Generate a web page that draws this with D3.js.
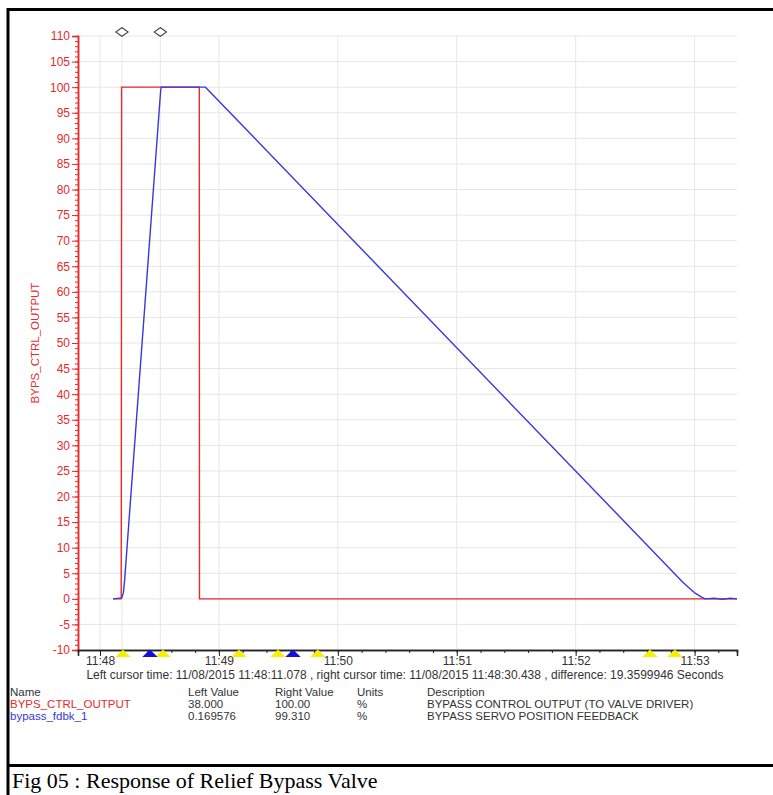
<!DOCTYPE html>
<html>
<head>
<meta charset="utf-8">
<script src="https://cdn.jsdelivr.net/npm/d3@7"></script>
<style>
  body { margin: 0; background: #fff; }
  svg { display: block; font-family: "Liberation Sans", Arial, sans-serif; }
</style>
</head>
<body>
<svg id="chart"></svg>
<script>
var width = 773, height = 795;

// data (time of day, percent)
var ctrlTimes  = ["11:48:06.600", "11:48:10.700", "11:48:10.900", "11:48:50.100", "11:48:50.200", "11:53:21.400"];
var ctrlValues = [0, 0, 100, 100, 0, 0];

var fdbkTimes  = ["11:48:06.600", "11:48:11.000", "11:48:11.800", "11:48:12.400", "11:48:30.600", "11:48:30.900",
                  "11:48:53.200", "11:52:53.700", "11:52:56.700", "11:53:00.300", "11:53:03.300", "11:53:05.300",
                  "11:53:10.000", "11:53:14.000", "11:53:18.000", "11:53:21.400"];
var fdbkValues = [0, 0.17, 1.2, 3.5, 99.3, 100,
                  100, 3.4, 2.3, 1.1, 0.4, 0,
                  0.1, -0.1, 0.1, 0];

var cursorTimes = ["11:48:11.078", "11:48:30.438"];
var yellowMarks = ["11:48:11.600", "11:48:31.800", "11:49:10.100", "11:49:29.800", "11:49:49.900", "11:52:37.500", "11:52:50.100"];
var blueMarks   = ["11:48:25.200", "11:49:37.400"];

var xDomain = ["11:47:48.900", "11:53:21.400"];
var yMin = -10, yMax = 110;

var legendHeader = ["Name", "Left Value", "Right Value", "Units", "Description"];
var legendRows = [
  ["BYPS_CTRL_OUTPUT", "38.000", "100.00", "%", "BYPASS CONTROL OUTPUT (TO VALVE DRIVER)"],
  ["bypass_fdbk_1", "0.169576", "99.310", "%", "BYPASS SERVO POSITION FEEDBACK"]
];
var cursorText = "Left cursor time: 11/08/2015 11:48:11.078 , right cursor time: 11/08/2015 11:48:30.438 , difference: 19.3599946 Seconds";
var caption = "Fig 05 : Response of Relief Bypass Valve";

var red = "#e82a2a", blue = "#3838d8", grid = "#e6e6e6";

var parse = d3.timeParse("%H:%M:%S.%L");

var svg = d3.select("#chart").attr("width", width).attr("height", height);

var x = d3.scaleTime()
    .domain(xDomain.map(parse))
    .range([78, 737]);

var y = d3.scaleLinear()
    .domain([yMin, yMax])
    .range([650, 36]);

// frame like a table cell
svg.append("line").attr("x1", 8).attr("y1", 8).attr("x2", 8).attr("y2", height)
    .attr("stroke", "#000").attr("stroke-width", 3);
svg.append("line").attr("x1", 8).attr("y1", 9.5).attr("x2", width).attr("y2", 9.5)
    .attr("stroke", "#000").attr("stroke-width", 3);
svg.append("line").attr("x1", 8).attr("y1", 765.5).attr("x2", width).attr("y2", 765.5)
    .attr("stroke", "#000").attr("stroke-width", 3);

// grid
var gridG = svg.append("g");
gridG.selectAll(".hg")
    .data(d3.range(-5, yMax + 1, 5))
    .enter().append("line")
    .attr("x1", x.range()[0]).attr("x2", x.range()[1])
    .attr("y1", d => y(d)).attr("y2", d => y(d))
    .attr("stroke", grid);

var vLines = x.ticks(d3.timeMinute.every(1)).concat(cursorTimes.map(parse));
gridG.selectAll(".vg")
    .data(vLines)
    .enter().append("line")
    .attr("x1", d => x(d)).attr("x2", d => x(d))
    .attr("y1", y(yMax)).attr("y2", y(yMin))
    .attr("stroke", grid);

// series
var line = d3.line()
    .x(d => x(d[0]))
    .y(d => y(d[1]));

svg.append("path")
    .datum(ctrlTimes.map((t, i) => [parse(t), ctrlValues[i]]))
    .attr("fill", "none").attr("stroke", red).attr("stroke-width", 1.4)
    .attr("d", line);

svg.append("path")
    .datum(fdbkTimes.map((t, i) => [parse(t), fdbkValues[i]]))
    .attr("fill", "none").attr("stroke", blue).attr("stroke-width", 1.4)
    .attr("d", line);

// y axis (red), minor ticks every unit
var yMinor = svg.append("g")
    .attr("transform", "translate(" + x.range()[0] + ",0)")
    .call(d3.axisLeft(y).tickValues(d3.range(yMin, yMax + 1, 1)).tickSize(3).tickFormat(""));
var yAxis = svg.append("g")
    .attr("transform", "translate(" + x.range()[0] + ",0)")
    .call(d3.axisLeft(y).tickValues(d3.range(yMin, yMax + 1, 5)).tickSize(6).tickPadding(2)
          .tickFormat(d => String(d)));
[yMinor, yAxis].forEach(function (g) {
  g.selectAll("path, line").attr("stroke", red);
  g.select(".domain").attr("stroke-width", 1.5);
});
yAxis.selectAll("text").attr("fill", red).style("font-size", "12px");

svg.append("text")
    .attr("transform", "translate(39,343) rotate(-90)")
    .attr("text-anchor", "middle")
    .attr("fill", red)
    .style("font-size", "11.5px")
    .text("BYPS_CTRL_OUTPUT");

// x axis
var xMinor = svg.append("g")
    .attr("transform", "translate(0," + y(yMin) + ")")
    .call(d3.axisBottom(x).ticks(d3.timeSecond.every(12)).tickSize(3).tickFormat(""));
var xAxis = svg.append("g")
    .attr("transform", "translate(0," + y(yMin) + ")")
    .call(d3.axisBottom(x).ticks(d3.timeMinute.every(1)).tickSize(6).tickPadding(0)
          .tickFormat(d3.timeFormat("%H:%M")));
[xMinor, xAxis].forEach(function (g) {
  g.selectAll("path, line").attr("stroke", "#222");
  g.select(".domain").attr("stroke-width", 1.5);
});
xAxis.selectAll("text").attr("fill", "#333").style("font-size", "12px");

// event markers under the axis
var tri = d3.symbol().type(d3.symbolTriangle).size(40);
svg.selectAll(".ym")
    .data(yellowMarks.map(parse))
    .enter().append("path")
    .attr("d", tri)
    .attr("transform", d => "translate(" + x(d) + "," + (y(yMin) + 4.5) + ") scale(1.6,0.9)")
    .attr("fill", "#f4f000");
svg.selectAll(".bm")
    .data(blueMarks.map(parse))
    .enter().append("path")
    .attr("d", tri)
    .attr("transform", d => "translate(" + x(d) + "," + (y(yMin) + 4.5) + ") scale(1.6,0.9)")
    .attr("fill", "#1010d8");

// cursor diamonds at the top
svg.selectAll(".cur")
    .data(cursorTimes.map(parse))
    .enter().append("path")
    .attr("d", d3.symbol().type(d3.symbolDiamond2).size(72))
    .attr("transform", d => "translate(" + x(d) + ",32) scale(1.15,0.82)")
    .attr("fill", "#fff").attr("stroke", "#333").attr("stroke-width", 1.1);

// cursor readout
svg.append("text")
    .attr("x", 405).attr("y", 679)
    .attr("text-anchor", "middle")
    .attr("fill", "#333")
    .style("font-size", "12px")
    .text(cursorText);

// legend table
var cols = [10, 188, 275, 357, 427];
var rowY = [696, 708, 720];
var rowColor = [red, blue];
var legend = svg.append("g").style("font-size", "11.5px");
legendHeader.forEach(function (h, i) {
  legend.append("text").attr("x", cols[i]).attr("y", rowY[0]).attr("fill", "#333").text(h);
});
legendRows.forEach(function (row, r) {
  row.forEach(function (cell, i) {
    legend.append("text").attr("x", cols[i]).attr("y", rowY[r + 1])
        .attr("fill", i === 0 ? rowColor[r] : "#333").text(cell);
  });
});

// figure caption
svg.append("text")
    .attr("x", 12).attr("y", 788)
    .attr("fill", "#000")
    .style("font-family", "'Liberation Serif', 'Times New Roman', serif")
    .style("font-size", "22px")
    .text(caption);
</script>
</body>
</html>
